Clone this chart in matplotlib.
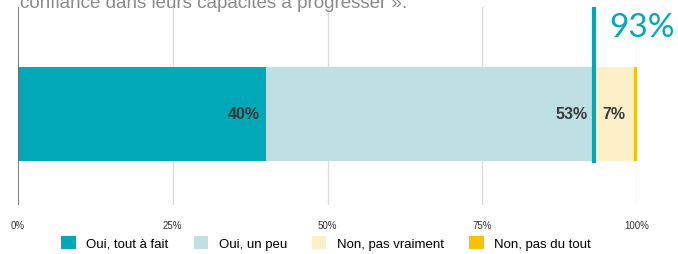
import matplotlib
matplotlib.use("Agg")
import matplotlib.pyplot as plt
from matplotlib.patches import Patch

plt.rcParams['font.family'] = ['Liberation Sans', 'DejaVu Sans']

categories = ["Oui, tout à fait", "Oui, un peu", "Non, pas vraiment", "Non, pas du tout"]
values = [40, 53, 6.5, 0.5]
value_labels = ["40%", "53%", "7%", ""]
colors = ["#00A8B8", "#BEE0E3", "#FDF0C9", "#F6C200"]
total_yes_label = "93%"
total_yes = 93
ticks = [0, 25, 50, 75, 100]
tick_labels = ["0%", "25%", "50%", "75%", "100%"]
title_tail = "confiance dans leurs capacités à progresser »."

fig = plt.figure(figsize=(6.78, 2.55), dpi=100)
ax = fig.add_axes([18/678, 1 - 206/255, (637-18)/678, (206-8)/255])

left = 0
bar_y, bar_h = 0.46, 0.475
for v, c, lab in zip(values, colors, value_labels):
    ax.barh(bar_y, v, left=left, height=bar_h, color=c, zorder=2)
    if lab:
        if v > 20:
            ax.text(left + v - 1.0, bar_y, lab, ha='right', va='center',
                    fontsize=11.5, fontweight='bold', color='#383838', zorder=3)
        else:
            ax.text(left + v / 2, bar_y, lab, ha='center', va='center',
                    fontsize=11.5, fontweight='bold', color='#383838', zorder=3)
    left += v

ax.set_xlim(0, 100)
ax.set_ylim(0, 1)
for t in ticks[1:]:
    ax.axvline(t, color='#dcdcdc', lw=1, zorder=1)
ax.axvline(0, color='#666666', lw=1.2, zorder=3)

ax.axvline(total_yes, ymin=bar_y - bar_h / 2, ymax=1, color='#00A8B8', lw=3, zorder=4)
ax.text(total_yes + 2.5, 0.975, total_yes_label, ha='left', va='top',
        fontsize=24, color='#00A8B8', family=['Lato', 'DejaVu Sans'], zorder=4)

ax.set_xticks(ticks)
ax.set_xticklabels(tick_labels, fontsize=7, color='#333333')
ax.tick_params(axis='x', length=0, pad=11)
ax.set_yticks([])
for s in ax.spines.values():
    s.set_visible(False)

fig.text(20/678, 1 - 8/255, title_tail, ha='left', va='baseline',
         fontsize=13.5, color='#8a8a8a')

handles = [Patch(facecolor=c, edgecolor='none') for c in colors]
fig.legend(handles, categories, loc='center', bbox_to_anchor=(326/678, 1 - 244/255),
           ncol=4, frameon=False, fontsize=9.5, handlelength=1.1, handleheight=1.1,
           handletextpad=0.8, columnspacing=1.9, borderpad=0, borderaxespad=0)

fig.savefig("out.png", dpi=100)
